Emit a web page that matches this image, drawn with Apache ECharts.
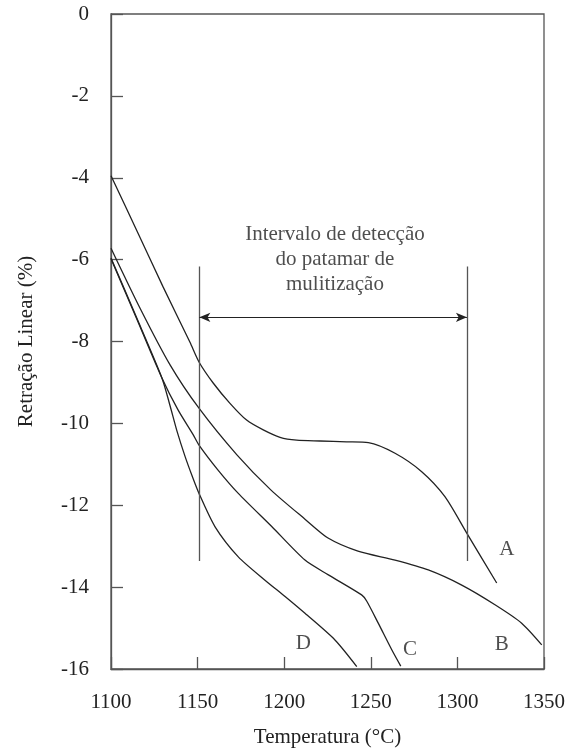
<!DOCTYPE html>
<html lang="pt">
<head>
    <meta charset="utf-8">
    <title>Retração Linear</title>
    <script src="https://cdn.jsdelivr.net/npm/echarts@6/dist/echarts.min.js" type="text/javascript" charset="utf-8"></script>
    <style>
        html, body { margin: 0; padding: 0; background: #fff; }
        #chart { width: 570px; height: 748px; }
    </style>
</head>
<body>
<div id="chart"></div>
<script type="text/javascript">
    // curvas: [temperatura, retração]
    var curveA = [[1100,-3.95],[1115,-5.3],[1130,-6.66],[1145.6,-8.02],[1150.8,-8.5],[1159.1,-9.02],[1168.7,-9.51],[1178.3,-9.92],[1187.9,-10.16],[1197.6,-10.34],[1207.2,-10.41],[1220.7,-10.43],[1236,-10.45],[1248.6,-10.47],[1264,-10.73],[1279.4,-11.18],[1292.8,-11.79],[1305.4,-12.68],[1322.7,-13.9]];
    var curveB = [[1100,-5.72],[1116.7,-7.18],[1134.1,-8.57],[1150.8,-9.63],[1172.7,-10.77],[1192.4,-11.63],[1212,-12.34],[1225.3,-12.8],[1242.6,-13.12],[1264,-13.34],[1283.2,-13.58],[1302.5,-13.95],[1321.7,-14.43],[1337.1,-14.88],[1348.7,-15.41]];
    var curveC = [[1100,-5.98],[1114.4,-7.4],[1129.4,-8.89],[1138.7,-9.67],[1147.5,-10.28],[1150.8,-10.53],[1161.8,-11.14],[1173.5,-11.71],[1192.8,-12.52],[1212,-13.34],[1225.5,-13.7],[1244.7,-14.19],[1247.6,-14.34],[1254.3,-14.88],[1262.1,-15.53],[1267.3,-15.93]];
    var curveD = [[1100,-5.96],[1114.4,-7.38],[1129.4,-8.89],[1134.1,-9.57],[1138.1,-10.19],[1142.7,-10.8],[1146.8,-11.28],[1150.8,-11.71],[1160,-12.52],[1173.5,-13.26],[1188.9,-13.83],[1200.5,-14.23],[1212,-14.64],[1229.3,-15.29],[1241.9,-15.94]];

    var curveNames = ['A', 'B', 'C', 'D'];
    var curveLabelPos = [[1328.5,-13.09],[1325.6,-15.41],[1272.6,-15.53],[1211,-15.37]];

    // intervalo de detecção
    var bracketX = [1151, 1305.5];
    var bracketY = [-6.17, -13.36];
    var arrowY = -7.41;
    var noteText = 'Intervalo de detecção\ndo patamar de\nmulitização';
    var notePos = [1229.3, -6.0];

    var fontFamily = '"Liberation Serif", "DejaVu Serif", serif';
    var textColor = '#222';
    var frameColor = '#555';
    var curveColor = '#222';

    var myChart = echarts.init(document.getElementById('chart'));

    function curveSeries(name, data) {
        return {
            name: name,
            type: 'line',
            data: data,
            smooth: 0.25,
            showSymbol: false,
            lineStyle: { color: curveColor, width: 1.3 },
            silent: true
        };
    }

    var series = [
        curveSeries('A', curveA),
        curveSeries('B', curveB),
        curveSeries('C', curveC),
        curveSeries('D', curveD),
        {
            type: 'scatter',
            symbolSize: 0,
            silent: true,
            data: curveNames.map(function (n, i) {
                return { name: n, value: curveLabelPos[i] };
            }),
            label: {
                show: true,
                position: 'inside',
                formatter: '{b}',
                fontFamily: fontFamily,
                fontSize: 21,
                color: textColor
            },
            markLine: {
                silent: true,
                symbol: ['none', 'none'],
                label: { show: false },
                lineStyle: { color: frameColor, width: 1.3, type: 'solid' },
                data: [
                    [{ coord: [bracketX[0], bracketY[0]] }, { coord: [bracketX[0], bracketY[1]] }],
                    [{ coord: [bracketX[1], bracketY[0]] }, { coord: [bracketX[1], bracketY[1]] }]
                ]
            }
        },
        {
            type: 'scatter',
            symbolSize: 0,
            silent: true,
            data: [{ name: noteText, value: notePos }],
            label: {
                show: true,
                position: 'inside',
                formatter: '{b}',
                fontFamily: fontFamily,
                fontSize: 21,
                lineHeight: 25,
                align: 'center',
                color: textColor
            },
            markLine: {
                silent: true,
                symbol: ['arrow', 'arrow'],
                symbolSize: [7, 11],
                label: { show: false },
                lineStyle: { color: '#222', width: 1.2, type: 'solid' },
                data: [
                    [{ coord: [bracketX[0], arrowY] }, { coord: [bracketX[1], arrowY] }]
                ]
            }
        }
    ];

    var option = {
        animation: false,
        backgroundColor: '#fff',
        grid: {
            left: 111,
            right: 26,
            top: 14,
            bottom: 79,
            containLabel: false,
            outerBoundsMode: 'none',
            show: true,
            borderColor: frameColor,
            borderWidth: 1.3
        },
        xAxis: {
            type: 'value',
            min: 1100,
            max: 1350,
            interval: 50,
            name: 'Temperatura (°C)',
            nameLocation: 'middle',
            nameGap: 58,
            nameTextStyle: { fontFamily: fontFamily, fontSize: 21, color: textColor },
            axisLine: { show: true, onZero: false, lineStyle: { color: frameColor, width: 1.3 } },
            axisTick: { show: true, inside: true, length: 12, lineStyle: { color: frameColor, width: 1.3 } },
            axisLabel: {
                margin: 23,
                fontFamily: fontFamily,
                fontSize: 21,
                color: textColor,
                formatter: function (v) { return String(v); }
            },
            splitLine: { show: false }
        },
        yAxis: {
            type: 'value',
            min: -16,
            max: 0,
            interval: 2,
            name: 'Retração Linear (%)',
            nameLocation: 'middle',
            nameGap: 74,
            nameTextStyle: { fontFamily: fontFamily, fontSize: 21, color: textColor },
            axisLine: { show: true, onZero: false, lineStyle: { color: frameColor, width: 1.3 } },
            axisTick: { show: true, inside: true, length: 12, lineStyle: { color: frameColor, width: 1.3 } },
            axisLabel: {
                margin: 22,
                fontFamily: fontFamily,
                fontSize: 21,
                color: textColor,
                formatter: function (v) { return String(v); }
            },
            splitLine: { show: false }
        },
        series: series
    };

    myChart.setOption(option);
</script>
</body>
</html>
